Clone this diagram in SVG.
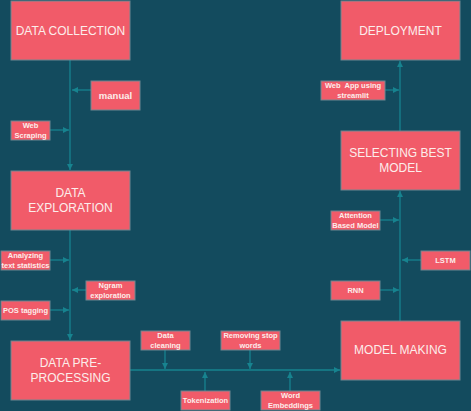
<svg xmlns="http://www.w3.org/2000/svg" width="471" height="411" viewBox="0 0 471 411">
<style>
.bg{fill:#134B5E}
.box{fill:#F15B69;stroke:#6E8891;stroke-width:1}
.big{font-family:"Liberation Sans",Arial,sans-serif;font-size:12px;fill:#FCEDEB;text-anchor:middle}
.sm{font-family:"Liberation Sans",Arial,sans-serif;font-size:7.5px;font-weight:bold;fill:#FCEDEB;text-anchor:middle}
.c{fill:none;stroke:#17838F;stroke-width:1.3}
</style>
<defs>
<marker id="ah" viewBox="0 0 10 10" refX="10" refY="5" markerWidth="6" markerHeight="6" markerUnits="userSpaceOnUse" orient="auto">
<path d="M0,0 L10,5 L0,10 Z" fill="#17838F"/>
</marker>
</defs>
<rect class="bg" x="0" y="0" width="471" height="411"/>
<g id="connectors">
<path class="c" d="M70,60 V170" marker-end="url(#ah)"/>
<path class="c" d="M91,90 H72" marker-end="url(#ah)"/>
<path class="c" d="M50,130 H69" marker-end="url(#ah)"/>
<path class="c" d="M70,230 V340" marker-end="url(#ah)"/>
<path class="c" d="M50,260 H69" marker-end="url(#ah)"/>
<path class="c" d="M86,290 H72" marker-end="url(#ah)"/>
<path class="c" d="M50,310 H69" marker-end="url(#ah)"/>
<path class="c" d="M130,370 H340" marker-end="url(#ah)"/>
<path class="c" d="M165,350 V369" marker-end="url(#ah)"/>
<path class="c" d="M250,350 V369" marker-end="url(#ah)"/>
<path class="c" d="M205,391 V372" marker-end="url(#ah)"/>
<path class="c" d="M290,391 V372" marker-end="url(#ah)"/>
<path class="c" d="M400,321 V191" marker-end="url(#ah)"/>
<path class="c" d="M380,290 H399" marker-end="url(#ah)"/>
<path class="c" d="M421,260 H402" marker-end="url(#ah)"/>
<path class="c" d="M380,220 H399" marker-end="url(#ah)"/>
<path class="c" d="M400,131 V61" marker-end="url(#ah)"/>
<path class="c" d="M385,90 H399" marker-end="url(#ah)"/>
</g>
<g id="data-collection"><rect class="box" x="11" y="1" width="119" height="59"/><text class="big" x="70.5" y="35">DATA COLLECTION</text></g>
<g id="manual"><rect class="box" x="91" y="81" width="49" height="29"/><text class="sm" x="115.5" y="99" style="font-size:9.5px">manual</text></g>
<g id="web-scraping"><rect class="box" x="11" y="121" width="39" height="19"/><text class="sm" x="30.5" y="128">Web</text><text class="sm" x="30.5" y="138">Scraping</text></g>
<g id="data-exploration"><rect class="box" x="11" y="171" width="119" height="59"/><text class="big" x="70.5" y="197">DATA</text><text class="big" x="70.5" y="212">EXPLORATION</text></g>
<g id="analyzing"><rect class="box" x="1" y="251" width="49" height="19"/><text class="sm" x="25.5" y="258">Analyzing</text><text class="sm" x="25.5" y="268">text statistics</text></g>
<g id="ngram"><rect class="box" x="86" y="281" width="49" height="19"/><text class="sm" x="110.5" y="288">Ngram</text><text class="sm" x="110.5" y="298">exploration</text></g>
<g id="pos-tagging"><rect class="box" x="1" y="301" width="49" height="19"/><text class="sm" x="25.5" y="313">POS tagging</text></g>
<g id="data-preprocessing"><rect class="box" x="11" y="341" width="119" height="59"/><text class="big" x="70.5" y="367">DATA PRE-</text><text class="big" x="70.5" y="382">PROCESSING</text></g>
<g id="data-cleaning"><rect class="box" x="141" y="331" width="49" height="19"/><text class="sm" x="165.5" y="338">Data</text><text class="sm" x="165.5" y="348">cleaning</text></g>
<g id="removing-stop-words"><rect class="box" x="221" y="331" width="59" height="19"/><text class="sm" x="250.5" y="338">Removing stop</text><text class="sm" x="250.5" y="348">words</text></g>
<g id="tokenization"><rect class="box" x="181" y="391" width="49" height="19"/><text class="sm" x="205.5" y="403">Tokenization</text></g>
<g id="word-embeddings"><rect class="box" x="261" y="391" width="59" height="19"/><text class="sm" x="290.5" y="398">Word</text><text class="sm" x="290.5" y="408">Embeddings</text></g>
<g id="model-making"><rect class="box" x="341" y="321" width="119" height="59"/><text class="big" x="400.5" y="354">MODEL MAKING</text></g>
<g id="rnn"><rect class="box" x="331" y="281" width="49" height="19"/><text class="sm" x="355.5" y="293">RNN</text></g>
<g id="lstm"><rect class="box" x="421" y="251" width="49" height="19"/><text class="sm" x="445.5" y="263">LSTM</text></g>
<g id="attention"><rect class="box" x="331" y="211" width="49" height="19"/><text class="sm" x="355.5" y="218">Attention</text><text class="sm" x="355.5" y="228">Based Model</text></g>
<g id="selecting-best-model"><rect class="box" x="341" y="131" width="119" height="59"/><text class="big" x="400.5" y="157">SELECTING BEST</text><text class="big" x="400.5" y="172">MODEL</text></g>
<g id="web-app"><rect class="box" x="321" y="81" width="64" height="19"/><text class="sm" x="353" y="88" xml:space="preserve">Web  App using</text><text class="sm" x="353" y="98">streamlit</text></g>
<g id="deployment"><rect class="box" x="341" y="1" width="119" height="59"/><text class="big" x="400.5" y="35">DEPLOYMENT</text></g>
</svg>
